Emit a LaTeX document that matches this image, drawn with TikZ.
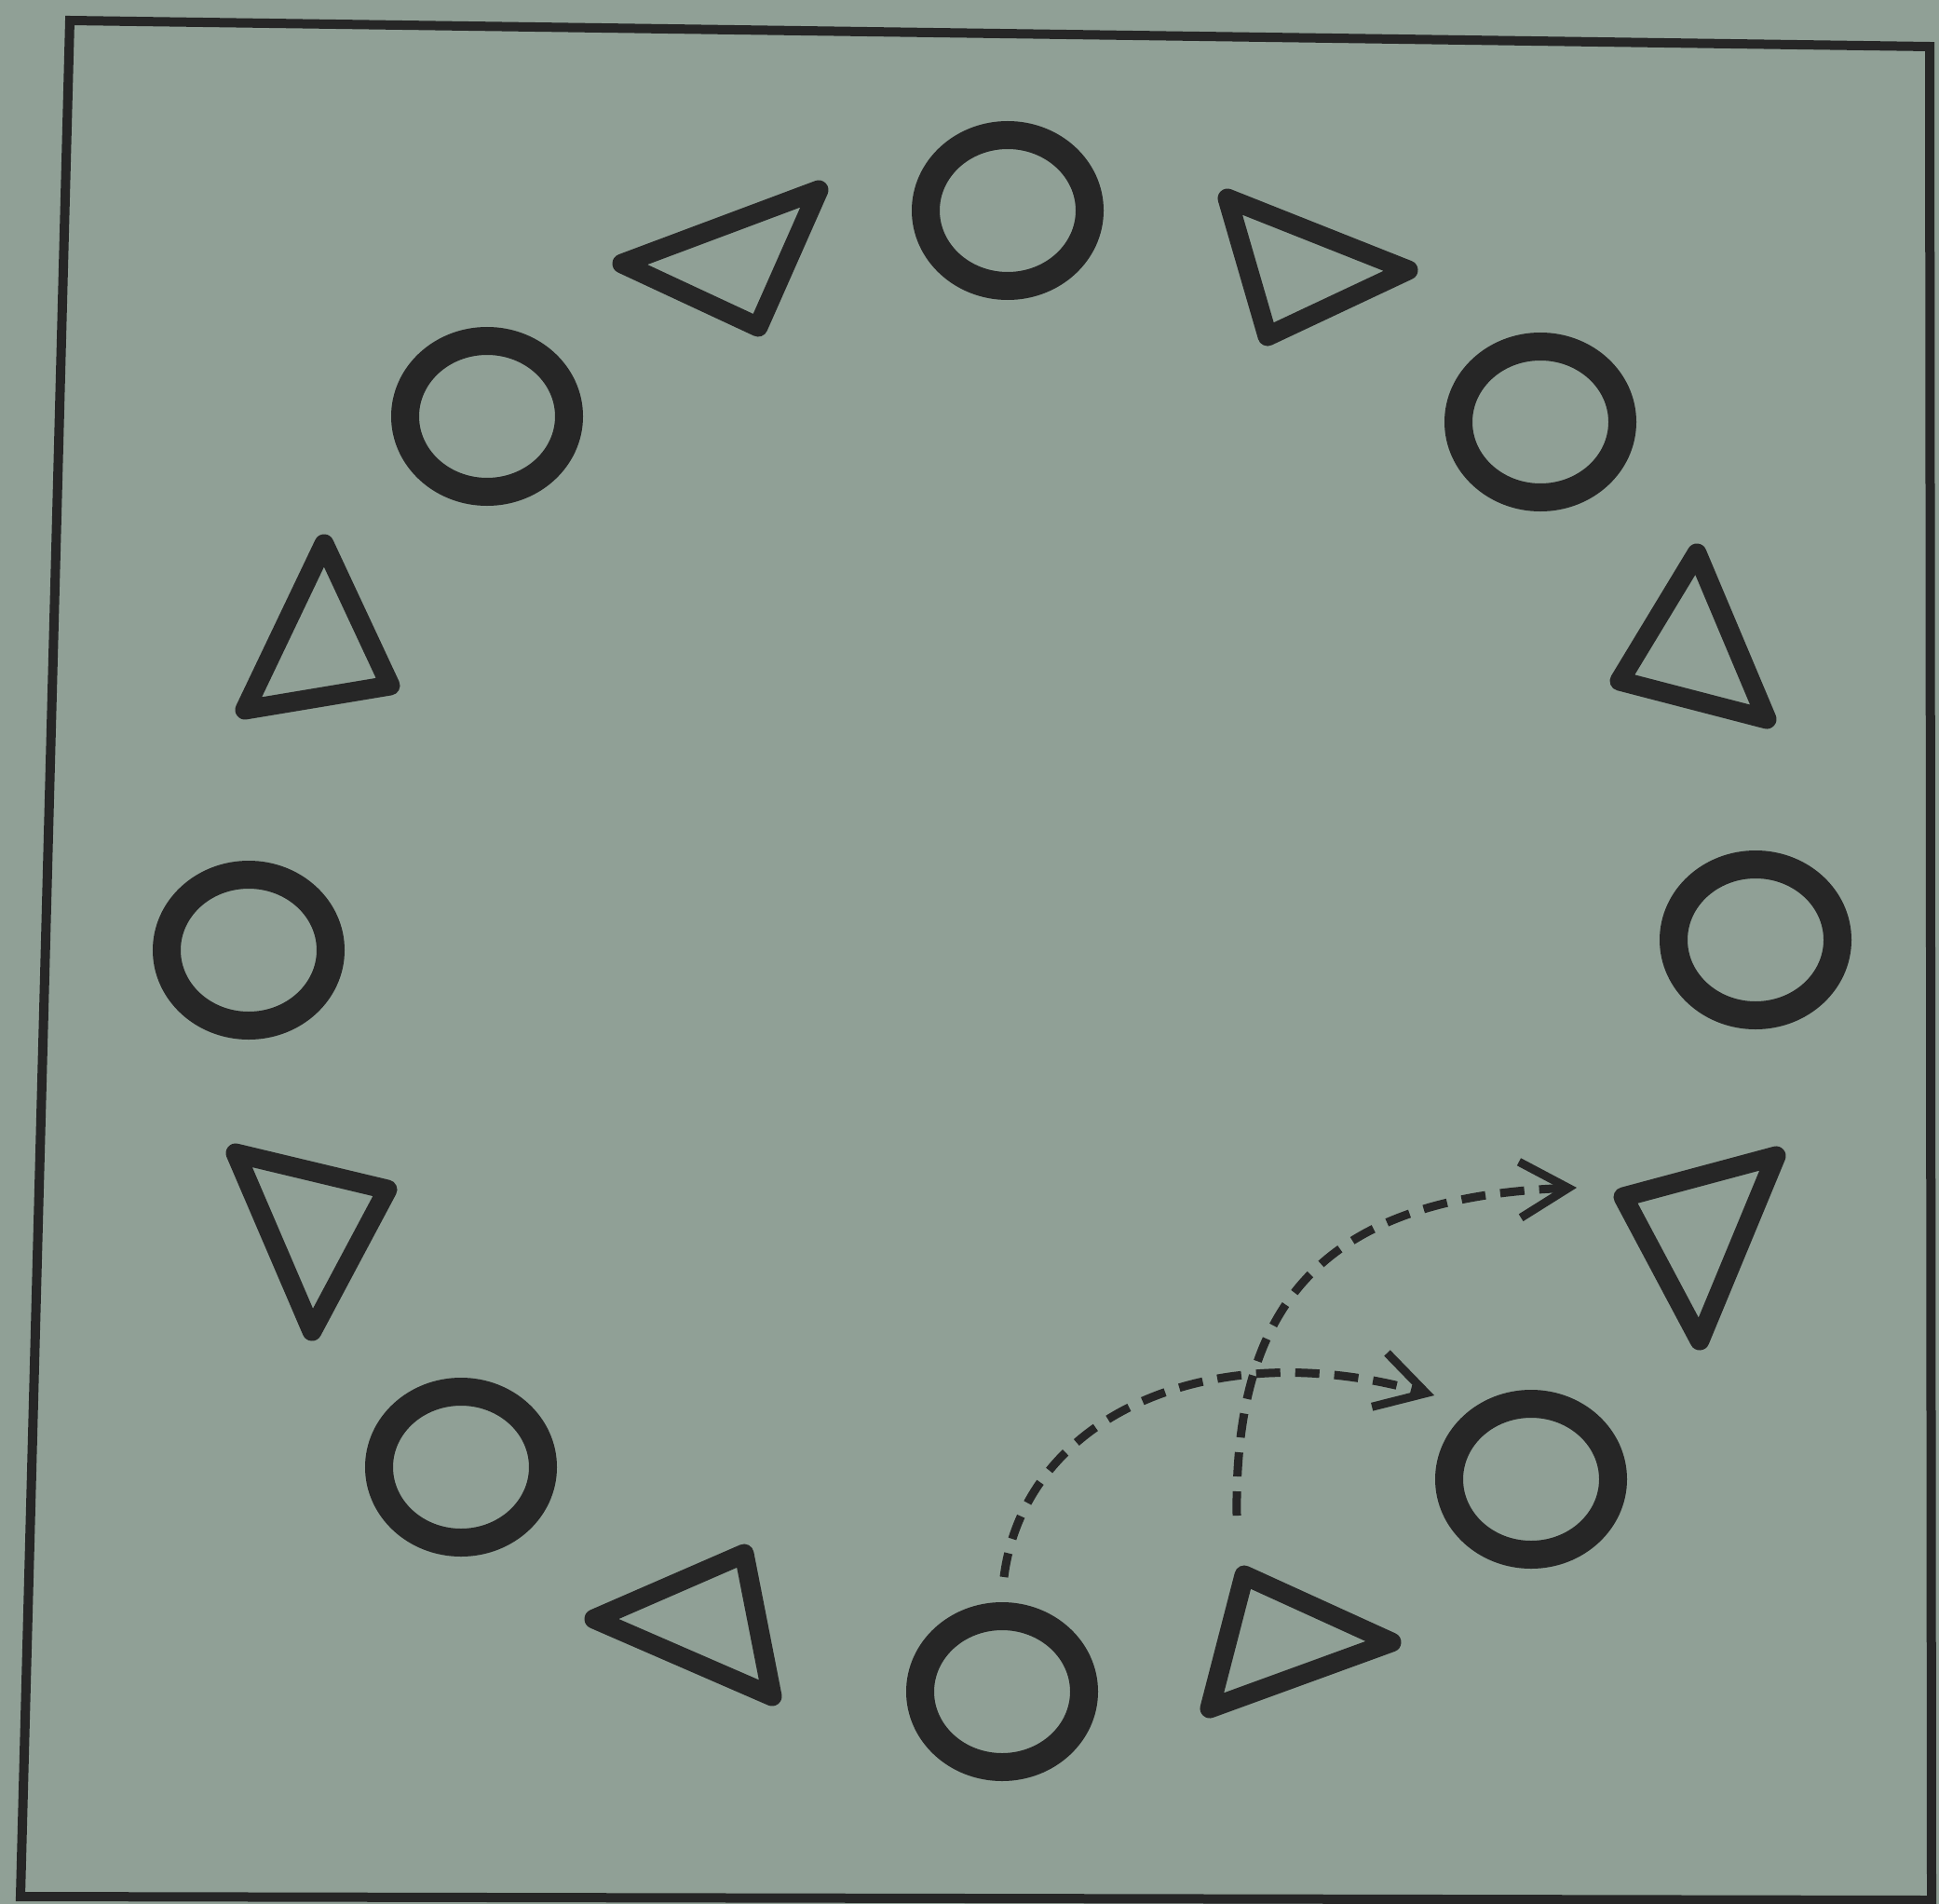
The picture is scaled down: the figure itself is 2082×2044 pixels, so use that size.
\documentclass[tikz,border=0pt]{standalone}
\usetikzlibrary{arrows.meta,shapes.geometric}
\definecolor{paper}{RGB}{144,160,150}
\definecolor{ink}{RGB}{38,38,38}
\begin{document}
\begin{tikzpicture}[x=1pt,y=-1pt,
  ring/.style={draw=ink, line width=30pt, ellipse, minimum width=176pt, minimum height=162pt, inner sep=0pt, outer sep=0pt},
  tri/.style={draw=ink, line width=21pt, line join=round},
  frame/.style={draw=ink, line width=10pt, line join=miter},
  move/.style={draw=ink, line width=9pt, dash pattern=on 26pt off 16pt, -{Straight Barb[length=52pt,width=60pt]}}
]
\useasboundingbox (0,0) rectangle (2082,2044);
\fill[paper] (0,0) rectangle (2082,2044);
% frame
\draw[frame] (75,22) -- (2072,50) -- (2074,2040) -- (22,2036) -- cycle;
% circles
\node[ring] (cT)  at (1082,226) {};
\node[ring] (cTL) at (523,447) {};
\node[ring] (cTR) at (1654,453) {};
\node[ring] (cL)  at (267,1020) {};
\node[ring] (cR)  at (1885,1009) {};
\node[ring] (cBL) at (495,1575) {};
\node[ring] (cBR) at (1644,1588) {};
\node[ring] (cB)  at (1076,1816) {};
% triangles
\draw[tri] (668,283) -- (879,204) -- (814,351) -- cycle;
\draw[tri] (1318,213) -- (1512,290) -- (1361,361) -- cycle;
\draw[tri] (348,584) -- (263,762) -- (419,736) -- cycle;
\draw[tri] (1822,594) -- (1739,731) -- (1897,772) -- cycle;
\draw[tri] (253,1238) -- (416,1277) -- (335,1429) -- cycle;
\draw[tri] (1907,1241) -- (1743,1285) -- (1825,1439) -- cycle;
\draw[tri] (638,1738) -- (799,1668) -- (829,1821) -- cycle;
\draw[tri] (1336,1691) -- (1494,1763) -- (1299,1834) -- cycle;
% movement arrows
\coordinate (a1s) at (1078,1693);
\coordinate (a1e) at (1540,1498);
\coordinate (a2s) at (1328,1627);
\coordinate (a2e) at (1693,1275);
\draw[move] (a1s) .. controls (1100,1520) and (1300,1430) .. (a1e);
\draw[move] (a2s) .. controls (1325,1400) and (1420,1285) .. (a2e);
\end{tikzpicture}
\end{document}
